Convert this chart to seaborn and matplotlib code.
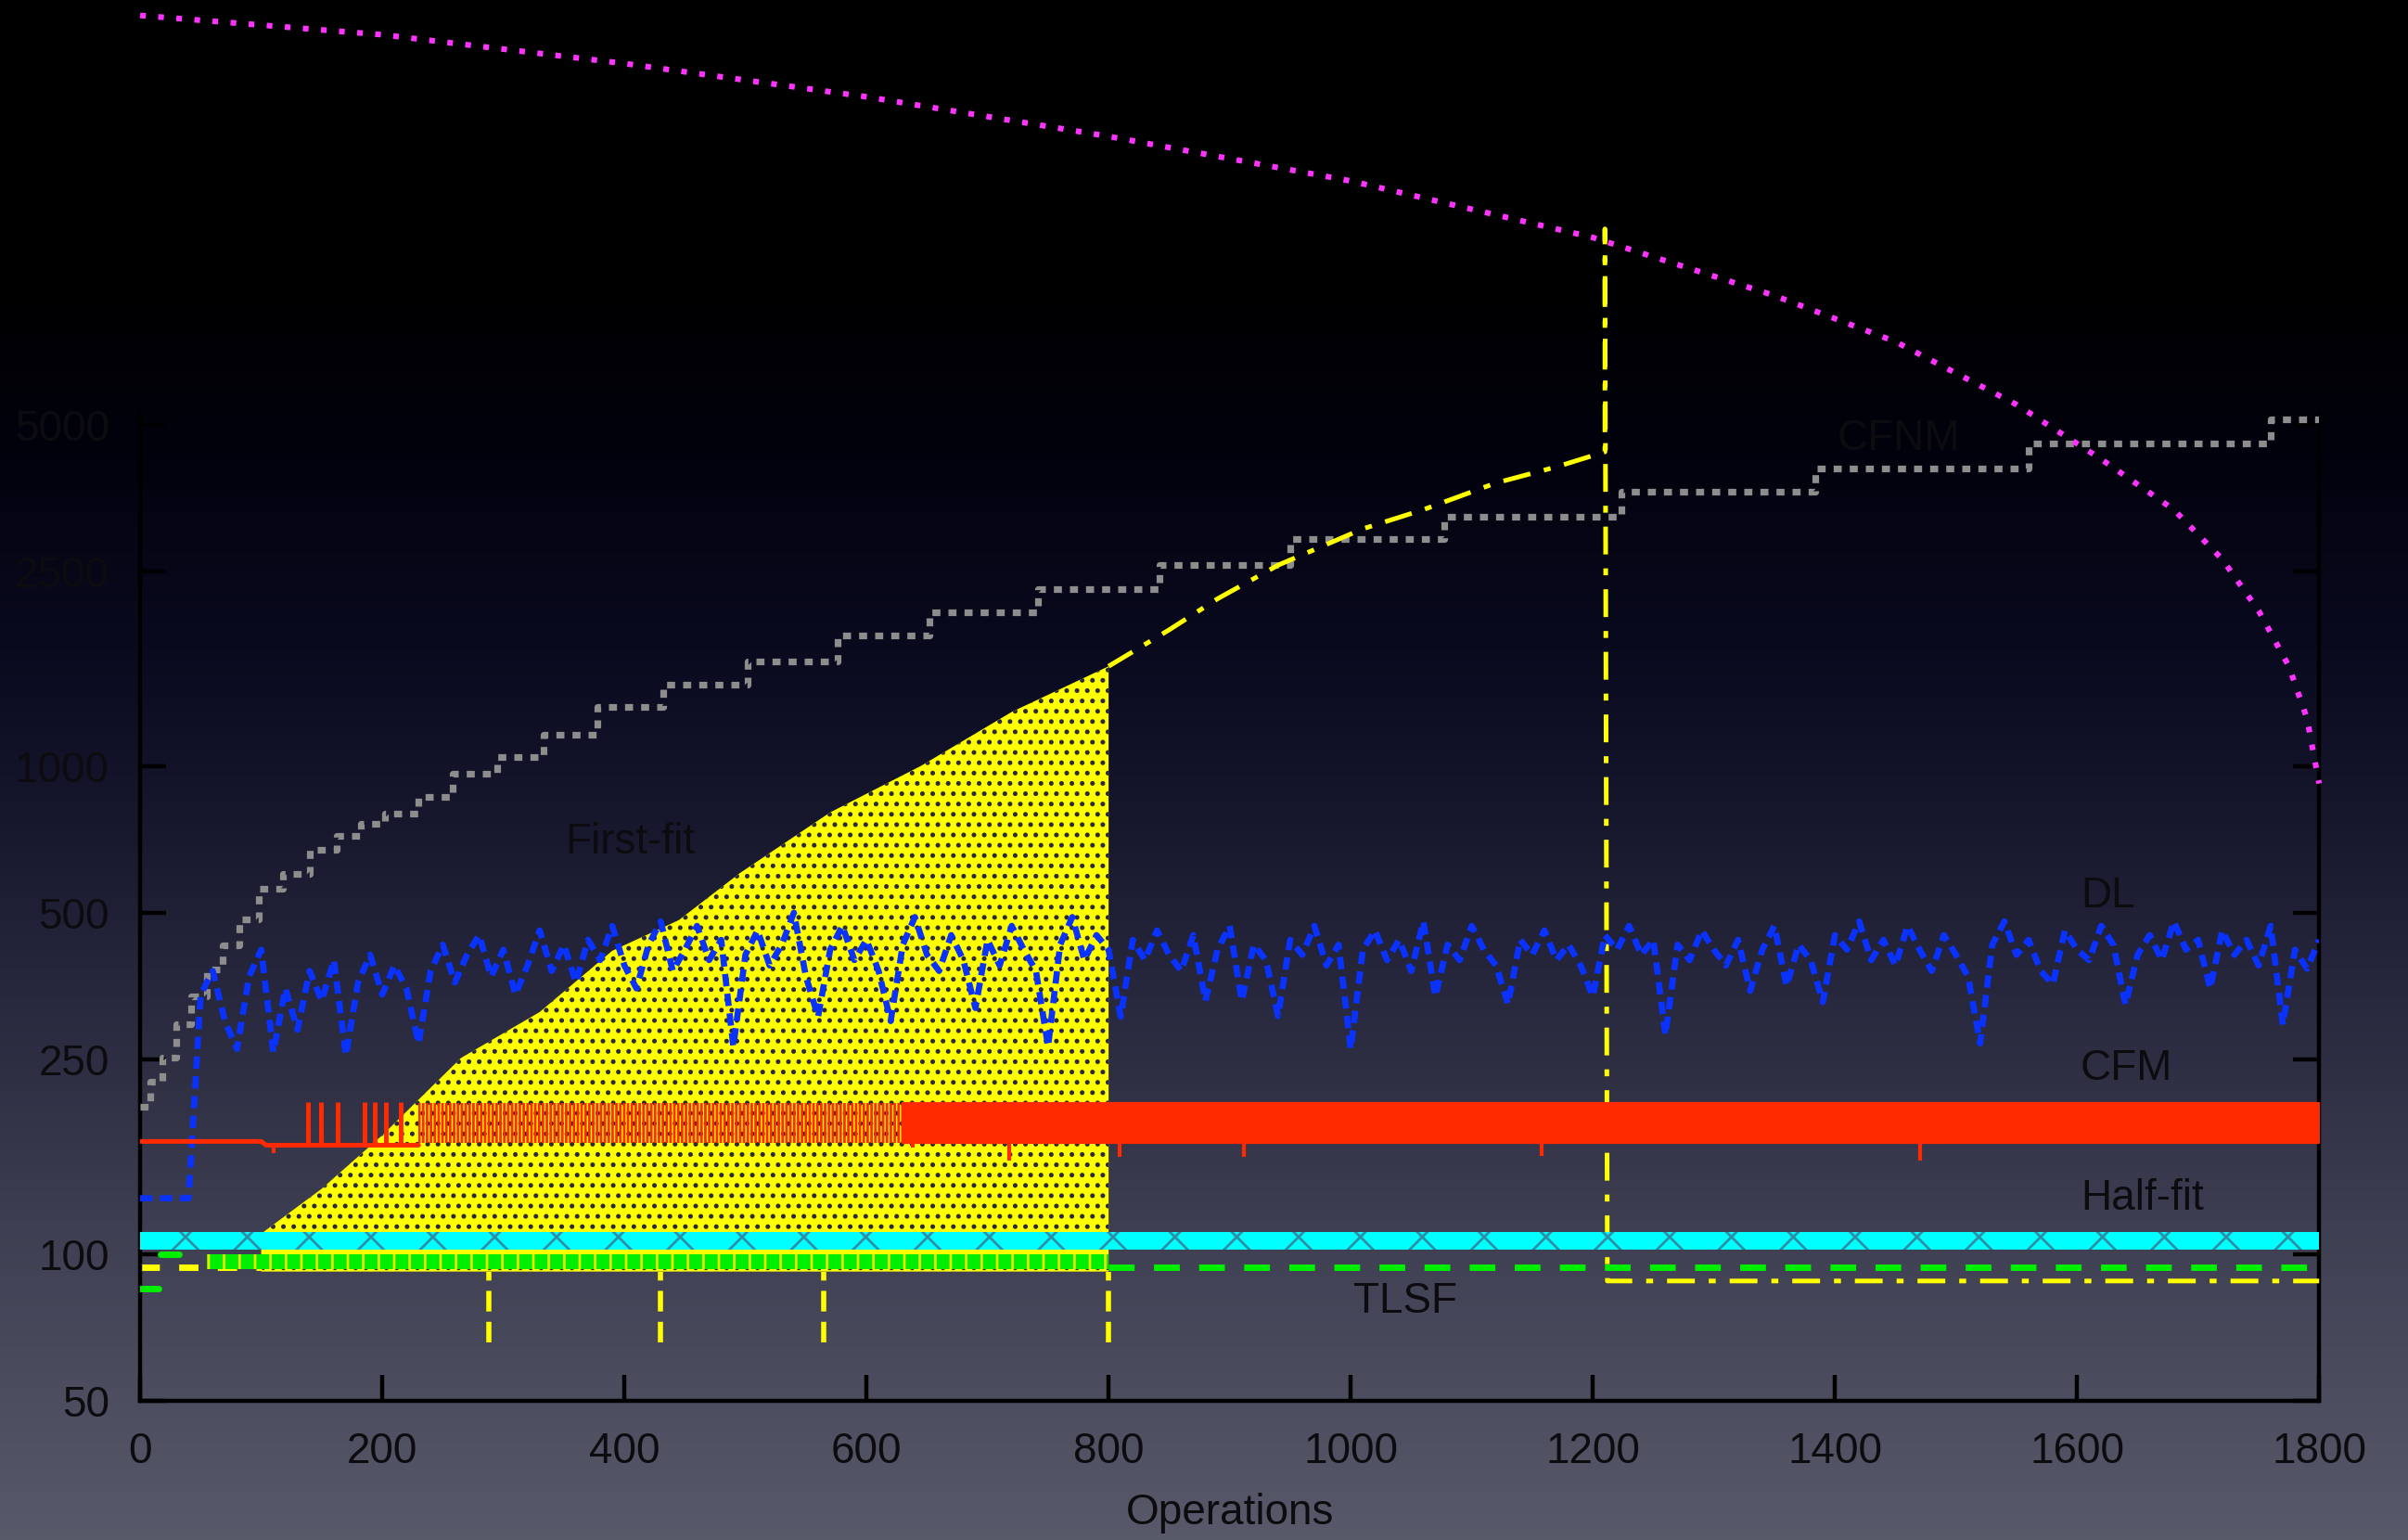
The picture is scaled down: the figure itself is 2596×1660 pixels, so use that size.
import numpy as np
import matplotlib
matplotlib.use('Agg')
import matplotlib.pyplot as plt
from matplotlib.colors import LinearSegmentedColormap
import seaborn as sns

# axis ticks
x_ticks = [0, 200, 400, 600, 800, 1000, 1200, 1400, 1600, 1800]
y_ticks = [50, 100, 250, 500, 1000, 2500, 5000]

# gray staircase (step curve, top series)
gray_ops = [0, 8, 18, 30, 42, 55, 68, 82, 98, 118, 140, 162, 182, 202, 230, 258,
            295, 333, 378, 432, 502, 576, 652, 742, 842, 950, 1077, 1224, 1384,
            1560, 1760, 1800]
gray_size = [200, 225, 252, 296, 337, 383, 429, 484, 560, 602, 674, 720, 762, 800,
             863, 963, 1045, 1157, 1318, 1468, 1637, 1853, 2065, 2302, 2578, 2913,
             3235, 3640, 4060, 4570, 5140, 5140]

# magenta dotted curve
magenta_ops = [0, 200, 400, 600, 800, 1000, 1200, 1350, 1450, 1550, 1620, 1680,
               1720, 1750, 1775, 1790, 1800]
magenta_size = [34500, 31500, 27500, 23500, 19500, 15800, 12100, 9200, 7400, 5500,
                4250, 3350, 2650, 2080, 1600, 1250, 920]

# First-fit (yellow)
ff_env_ops = [100, 150, 200, 265, 330, 390, 445, 495, 570, 645, 720, 800]
ff_env_top = [110, 136, 175, 252, 313, 418, 483, 602, 803, 1000, 1290, 1600]
ff_floor = 92
ff_start_ops = [0, 100]
ff_start_size = [94, 94]
ff_tail_ops = [800, 850, 890, 940, 1010, 1060, 1120, 1170, 1210, 1210, 1212, 1800]
ff_tail_size = [1600, 1900, 2200, 2578, 3060, 3350, 3800, 4100, 4400, 12600, 88, 88]
ff_drop_ops = [288, 430, 565, 800]
ff_drop_min = 66

# DL (blue)
dl_ops = list(range(0, 1810, 10))
dl_size = [130, 130, 130, 130, 130,
           340, 380, 300, 263, 370, 420, 259, 350, 288, 380, 330, 400, 255, 360, 410,
           340, 390, 350, 270, 380, 430, 360, 410, 450, 370, 420, 340, 390, 460, 380,
           430, 360, 440, 400, 470, 390, 350, 430, 480, 380, 420, 470, 400, 440, 266,
           410, 460, 390, 430, 500, 370, 306, 420, 470, 400, 440, 380, 300, 430, 490,
           410, 380, 450, 400, 319, 440, 390, 470, 420, 380, 266, 430, 490, 400, 450,
           420, 306, 440, 400, 460, 410, 380, 450, 330, 420, 470, 330, 430, 400, 307,
           440, 410, 470, 390, 430, 263, 420, 460, 400, 440, 380, 480, 337, 430, 400,
           470, 420, 390, 325, 440, 410, 460, 400, 430, 390, 337, 450, 420, 470, 410,
           440, 281, 430, 400, 460, 420, 390, 440, 346, 420, 470, 354, 430, 400, 328,
           450, 420, 480, 400, 440, 390, 470, 420, 380, 450, 410, 370, 270, 430, 480,
           410, 440, 380, 357, 460, 420, 400, 470, 430, 324, 410, 450, 400, 480, 420,
           440, 350, 460, 410, 440, 390, 470, 295, 420, 384, 440]

# CFM (red)
cfm_base_ops = [0, 100, 104, 230]
cfm_base_size = [170, 170, 167, 167]
cfm_spike_ops = [139, 149, 163, 185, 194, 203, 215]
cfm_spike_top = 205
cfm_band_low = 169
cfm_band_high = 204
cfm_comb_ops = [230, 630]
cfm_solid_ops = [630, 1800]
cfm_dip_ops = [110, 638, 718, 809, 912, 1158, 1470]
cfm_dip_min = [161, 165, 155, 158, 158, 159, 155]

# Half-fit (cyan)
hf_ops = [0, 1800]
hf_low = 102
hf_high = 111

# TLSF (green)
tlsf_start_ops = [[0, 15], [17, 32]]
tlsf_start_size = [85, 100]
tlsf_band_ops = [55, 800]
tlsf_band_low = 93
tlsf_band_high = 100
tlsf_tail_ops = [800, 1800]
tlsf_tail_size = [94, 94]

sns.set_style('ticks')
plt.rcParams['font.family'] = ['Liberation Sans', 'DejaVu Sans']
plt.rcParams['hatch.linewidth'] = 1.0
text_color = '#0c0c10'
fsize = 16.5

fig = plt.figure(figsize=(12.98, 8.3), dpi=200)
fig.patch.set_facecolor('black')

# gradient backdrop
bg = fig.add_axes([0, 0, 1, 1])
stops = [(0.0, '#000000'), (0.18, '#000000'), (0.30, '#02020e'), (0.45, '#0c0c23'),
         (0.55, '#191930'), (0.65, '#28283e'), (0.80, '#3e3f52'), (1.0, '#585a6a')]
cmap = LinearSegmentedColormap.from_list('bg', stops)
bg.imshow(np.linspace(0, 1, 512).reshape(-1, 1), cmap=cmap, aspect='auto',
          extent=[0, 1, 0, 1], origin='upper')
bg.set_axis_off()

ax = fig.add_axes([0.0582, 0.0904, 0.9049, 0.641])
ax.set_facecolor('none')
ax.set_yscale('log')

# gray steps
sns.lineplot(x=gray_ops, y=gray_size, ax=ax, color='#8d8d8d', lw=2.6,
             linestyle=(0, (1.2, 1.2)), drawstyle='steps-post',
             estimator=None, sort=False, zorder=3)

# magenta dotted
sns.lineplot(x=magenta_ops, y=magenta_size, ax=ax, color='#ff33ff', lw=2.2,
             linestyle=(0, (1, 2.2)), estimator=None, sort=False,
             clip_on=False, zorder=3)

# First-fit region
ax.fill_between(ff_env_ops, ff_floor, ff_env_top, facecolor='#ffff00',
                edgecolor='#2a2a3e', linewidth=0, hatch='...', zorder=2)
sns.lineplot(x=ff_start_ops, y=ff_start_size, ax=ax, color='#ffff00', lw=2.5,
             linestyle=(0, (3, 3)), estimator=None, zorder=2)
sns.lineplot(x=ff_tail_ops, y=ff_tail_size, ax=ax, color='#ffff00', lw=1.8,
             linestyle=(0, (6, 3, 1.5, 3)), estimator=None, sort=False,
             clip_on=False, zorder=4)
ax.vlines(ff_drop_ops, ff_drop_min, ff_floor, colors='#ffff00', lw=2,
          linestyles=(0, (4, 2)), zorder=2)

# DL
sns.lineplot(x=dl_ops, y=dl_size, ax=ax, color='#0a32ff', lw=2.4,
             linestyle=(0, (2, 1.2)), estimator=None, sort=False, zorder=4)

# CFM
sns.lineplot(x=cfm_base_ops, y=cfm_base_size, ax=ax, color='#ff2a00', lw=1.8,
             estimator=None, zorder=5)
ax.vlines(cfm_spike_ops, cfm_base_size[-1], cfm_spike_top, colors='#ff2a00',
          lw=1.8, zorder=5)
ax.fill_between(cfm_comb_ops, cfm_band_low, cfm_band_high, facecolor='none',
                edgecolor='#ff2a00', linewidth=0, hatch='||||||||', zorder=5)
ax.fill_between(cfm_solid_ops, cfm_band_low, cfm_band_high, facecolor='#ff2a00',
                edgecolor='#ff2a00', linewidth=0.8, zorder=5)
ax.vlines(cfm_dip_ops, cfm_dip_min, cfm_band_low, colors='#ff2a00', lw=1.5,
          zorder=5)

# Half-fit
ax.fill_between(hf_ops, hf_low, hf_high, facecolor='#00ffff',
                edgecolor='#2e8fa6', linewidth=0, hatch='x', zorder=5)

# TLSF
for seg, val in zip(tlsf_start_ops, tlsf_start_size):
    sns.lineplot(x=seg, y=[val, val], ax=ax, color='#00ee00', lw=2.5,
                 estimator=None, zorder=6)
ax.fill_between(tlsf_band_ops, tlsf_band_low, tlsf_band_high, facecolor='#00ee00',
                edgecolor='#e8e800', linewidth=0, hatch='||', zorder=6)
sns.lineplot(x=tlsf_tail_ops, y=tlsf_tail_size, ax=ax, color='#00ee00', lw=2.5,
             linestyle=(0, (4, 3)), estimator=None, zorder=6)

# series labels
ax.text(405, 696, 'First-fit', ha='center', va='center', fontsize=fsize, color=text_color)
ax.text(1603, 540, 'DL', ha='left', va='center', fontsize=fsize, color=text_color)
ax.text(1603, 240, 'CFM', ha='left', va='center', fontsize=fsize, color=text_color)
ax.text(1603, 130, 'Half-fit', ha='left', va='center', fontsize=fsize, color=text_color)
ax.text(1045, 80, 'TLSF', ha='center', va='center', fontsize=fsize, color=text_color)
ax.text(1453, 4685, 'CFNM', ha='center', va='center', fontsize=fsize, color=text_color)

ax.set_xlim(0, 1800)
ax.set_ylim(50, 5270)
ax.set_xticks(x_ticks)
ax.set_xticklabels([str(v) for v in x_ticks])
ax.set_yticks(y_ticks)
ax.set_yticklabels([str(v) for v in y_ticks])
ax.minorticks_off()
ax.set_xlabel('Operations', fontsize=fsize, color=text_color, labelpad=8)
ax.tick_params(axis='both', direction='in', length=10, width=1.6, color='black',
               labelsize=fsize, labelcolor=text_color, pad=12)
ax.tick_params(axis='y', right=True)
for side in ['left', 'right', 'bottom']:
    ax.spines[side].set_color('black')
    ax.spines[side].set_linewidth(1.6)
ax.spines['top'].set_visible(False)

fig.savefig('out.png', dpi=200, facecolor=fig.get_facecolor())
